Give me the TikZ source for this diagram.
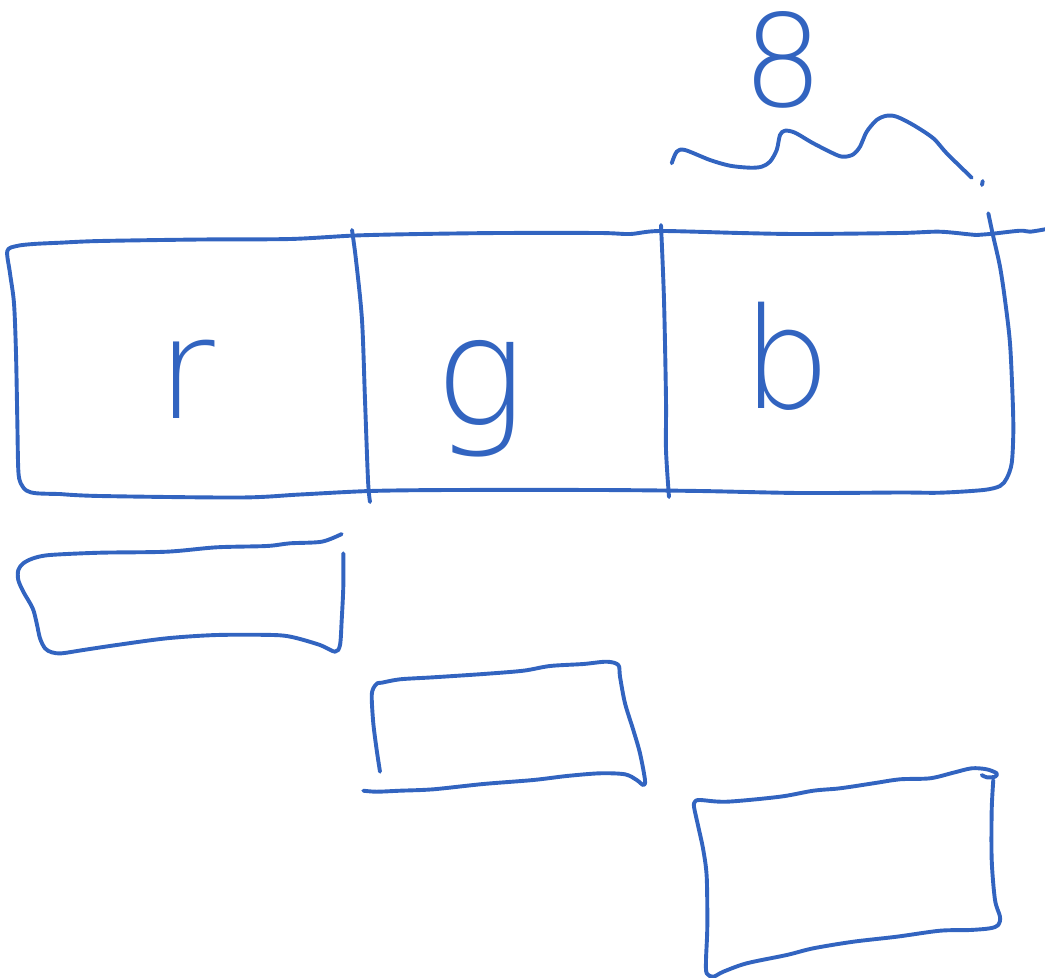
\documentclass[tikz,border=0pt]{standalone}
\usepackage{fontspec}
\newfontfamily\hand{DejaVu Sans}[UprightFont={* ExtraLight}]
\definecolor{ink}{RGB}{50,100,192}
\tikzset{
  ink/.style={draw=ink, line width=3.9pt, line cap=round, line join=round},
  letter/.style={text=ink, anchor=base, inner sep=0pt, font=\hand\fontsize{140}{140}\selectfont},
  bigletter/.style={text=ink, anchor=base, inner sep=0pt, font=\hand\fontsize{152}{152}\selectfont},
  digit/.style={text=ink, anchor=base, inner sep=0pt, font=\hand\fontsize{128}{128}\selectfont}
}
\begin{document}
\begin{tikzpicture}[x=1pt,y=-1pt]
\useasboundingbox (0,0) rectangle (1045,978);
% main strip: left edge + top
\draw[ink] plot[smooth,tension=0.5] coordinates {(60,494) (36.7,493.3) (26.7,490.7) (20.7,483.3) (18.3,470) (17.3,420) (16,353.3) (14,303.3) (10,273.3) (7.3,251) (16.7,246) (33.3,244) (60,242.7) (100,241) (200,239.5) (290,239) (355,235.5) (420,234) (500,233) (600,233) (630,234) (660,231) (740,233) (800,234) (900,233) (940,231.7) (976.7,235) (990,234) (1020,230.7) (1030,231.7) (1045,229.3)};
% main strip: right edge + bottom
\draw[ink] plot[smooth,tension=0.5] coordinates {(988.3,213.3) (993.3,236.7) (1000,266.7) (1005,300) (1010,343.3) (1012.7,400) (1013.3,433.3) (1011.7,463.3) (1006.7,478.3) (1000,486) (983.3,490) (940,492.7) (900,492.5) (800,493) (700,491) (600,490) (450,490) (370,491) (300,494.5) (240,497.5) (100,496) (60,494)};
% dividers
\draw[ink] plot[smooth,tension=0.5] coordinates {(352,230) (356,260) (362,320) (365,400) (368,480) (370,502)};
\draw[ink] plot[smooth,tension=0.5] coordinates {(661,225) (664,300) (666,400) (666,450) (669,497)};
% letters
\node[letter] (r) at (186,418) {r};
\node[bigletter] (g) at (480,425) {g};
\node[letter] (b) at (787,408) {b};
\node[digit] (eight) at (783,106) {8};
% brace
\draw[ink] plot[smooth,tension=0.5] coordinates {(671.7,163.3) (676.7,151.7) (685,150) (710,160) (730,165.7) (750,167.7) (761.7,166.7) (770,161.7) (776.7,150) (780,135) (785,130.7) (795,132.7) (813.3,143.3) (836.7,155) (845,156.7) (853.3,154.3) (860,146.7) (866.7,131.7) (876.7,120) (886.7,115.7) (896.7,116.7) (913.3,125) (933.3,138.3) (946.7,153.3) (971.7,177.7)};
\draw[ink] (982.7,181) -- (982,185);
% box 1
\draw[ink] plot[smooth,tension=0.5] coordinates {(341.7,534) (321.7,541.7) (290,543.3) (266.7,546) (216.7,547.3) (166.7,551.7) (100,552.7) (50,555) (33.3,558.3) (23.3,563.3) (18.3,570) (18.3,580) (23.3,591.7) (32.7,608.3) (36.7,623.3) (40,638.3) (45,648.3) (51.7,652.3) (61.7,653.3) (83.3,650) (116.7,645) (166.7,638.3) (216.7,635) (273.3,635) (293.3,637.3) (320,645) (335,651.7) (340,645) (341.7,620) (343.3,586.7) (343.3,553.3)};
% box 2
\draw[ink] plot[smooth,tension=0.5] coordinates {(380,771.7) (376.7,750) (373.3,723.3) (371.7,696.7) (373.3,688.3) (377.3,683.3) (381.7,682.7) (400,679.3) (433.3,677.3) (483.3,674) (523.3,670.7) (550,666) (583.3,664) (606.7,661.7) (618.3,665) (620,676.7) (625,703.3) (633.3,730) (640,753.3) (645,780) (643.3,785) (636.7,780) (625,774.3) (600,773.3) (566.7,776) (533.3,780) (483.3,784) (433.3,789.3) (400,790.7) (376.7,791.7) (363.3,790.7)};
% box 3
\draw[ink] plot[smooth,tension=0.5] coordinates {(993.3,780) (991.7,810) (991.7,860) (995,900) (1000,916.7) (998.3,925) (990,928.3) (970,930) (940,930.7) (896.7,936.7) (853.3,941.7) (813.3,948.3) (786.7,955) (746.7,963.3) (723.3,971.7) (713.3,976.7) (706.7,973.3) (706,960) (707.3,926.7) (706.7,876.7) (703.3,850) (698.3,826.7) (694,806.7) (695,801.7) (700,800) (726.7,801.7) (780,796.7) (813.3,790.7) (840,788.3) (873.3,783.3) (900,779.3) (930,778.3) (953.3,772.7) (971.7,768.3) (986.7,769.3) (996.7,773.3) (995,776.7) (986.7,777.3) (981.7,775)};
\end{tikzpicture}
\end{document}
